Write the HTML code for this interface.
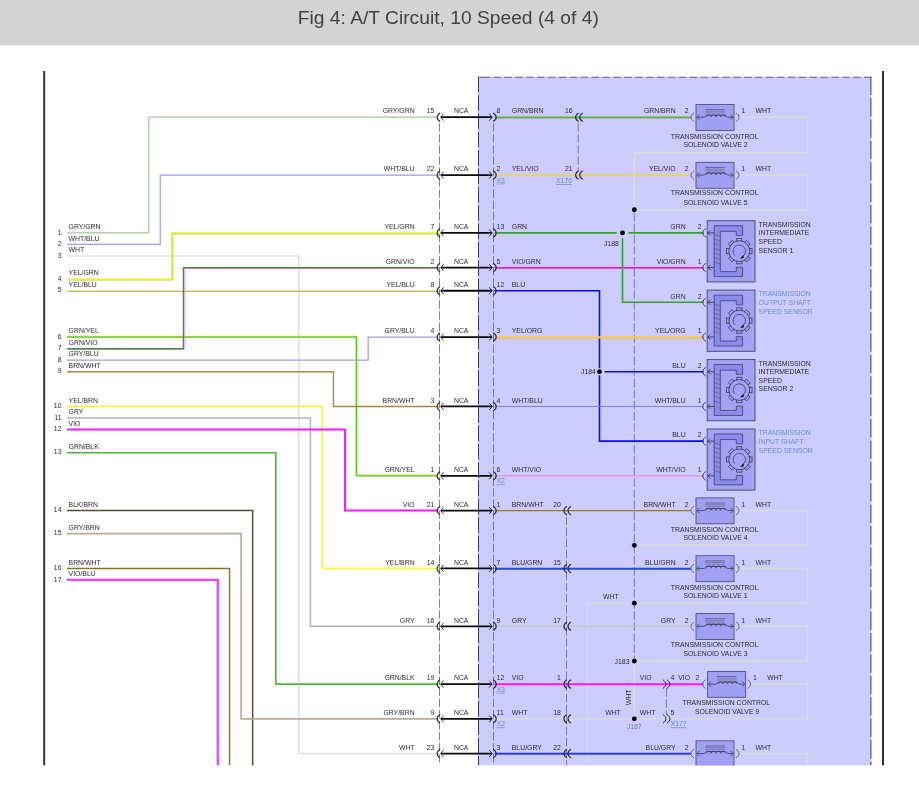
<!DOCTYPE html>
<html lang="en"><head><meta charset="utf-8"><title>Fig 4: A/T Circuit, 10 Speed (4 of 4)</title>
<style>
html,body{margin:0;padding:0;background:#fff;}
body{width:919px;height:795px;overflow:hidden;}
svg{display:block;font-family:"Liberation Sans",Arial,sans-serif;}
svg text{white-space:pre;}
</style></head><body>
<svg width="919" height="795" viewBox="0 0 919 795">
<rect x="0" y="0" width="919" height="795" fill="#ffffff"/>
<rect x="0" y="0" width="919" height="45.5" fill="#d3d3d3"/>
<text x="448.3" y="23.6" text-anchor="middle" fill="#424242" font-size="18.8" textLength="301" lengthAdjust="spacingAndGlyphs">Fig 4: A/T Circuit, 10 Speed (4 of 4)</text>
<rect x="478" y="76.8" width="393.5" height="688.8000000000001" fill="#ccccff"/>
<line x1="478.5" y1="76.6" x2="478.5" y2="765.6" stroke="#3c3c50" stroke-width="1" stroke-dasharray="15.8,2.56"/>
<line x1="870.8" y1="76.6" x2="870.8" y2="765.6" stroke="#686888" stroke-width="1.3" stroke-dasharray="18.4,3"/>
<line x1="478" y1="77.3" x2="490.1" y2="77.3" stroke="#66667c" stroke-width="1.1"/>
<line x1="493.4" y1="77.3" x2="871.4" y2="77.3" stroke="#66667c" stroke-width="1.1" stroke-dasharray="7.6,3.3"/>
<line x1="44.2" y1="71" x2="44.2" y2="765.6" stroke="#333" stroke-width="2"/>
<line x1="883" y1="71" x2="883" y2="765.6" stroke="#0c0c0c" stroke-width="1.7"/>
<line x1="439.5" y1="123.10000000000001" x2="439.5" y2="765.6" stroke="#6c6c80" stroke-width="0.85" stroke-dasharray="8.5,2.57"/>
<line x1="493.5" y1="123.10000000000001" x2="493.5" y2="765.6" stroke="#6c6c80" stroke-width="0.85" stroke-dasharray="8.5,2.57"/>
<line x1="578.2" y1="123.10000000000001" x2="578.2" y2="171.05" stroke="#6c6c80" stroke-width="0.85" stroke-dasharray="8.5,2.57"/>
<line x1="566.5" y1="516.48" x2="566.5" y2="765.6" stroke="#6c6c80" stroke-width="0.85" stroke-dasharray="8.5,2.57"/>
<line x1="634.3" y1="212.76" x2="634.3" y2="657.99" stroke="#6c6c80" stroke-width="0.85" stroke-dasharray="8.5,2.57"/>
<line x1="666.4" y1="688.13" x2="666.4" y2="714.84" stroke="#6c6c80" stroke-width="0.85" stroke-dasharray="8.5,2.57"/>
<polyline points="67.0,232.9 148.7,232.9 148.7,117.2 438.5,117.2" fill="none" stroke="#a2c89c" stroke-width="1.2"/>
<polyline points="67.0,244.47 160.25,244.47 160.25,175.05 438.5,175.05" fill="none" stroke="#9c9cf0" stroke-width="1.2"/>
<polyline points="67.0,256.04 298.85,256.04 298.85,753.55 438.5,753.55" fill="none" stroke="#d6d6d6" stroke-width="1.1"/>
<polyline points="67.0,279.18 171.8,279.18 171.8,232.9 438.5,232.9" fill="none" stroke="#a6d83c" stroke-width="1.3" transform="translate(0.7,0.7)"/>
<polyline points="67.0,279.18 171.8,279.18 171.8,232.9 438.5,232.9" fill="none" stroke="#f6f61e" stroke-width="1.3"/>
<polyline points="67.0,290.75 438.5,290.75" fill="none" stroke="#9a9ae6" stroke-width="1.2" transform="translate(0.7,0.7)"/>
<polyline points="67.0,290.75 438.5,290.75" fill="none" stroke="#f4f428" stroke-width="1.2"/>
<polyline points="67.0,337.03 356.6,337.03 356.6,475.87 438.5,475.87" fill="none" stroke="#cfe83a" stroke-width="1.3" transform="translate(-0.7,-0.7)"/>
<polyline points="67.0,337.03 356.6,337.03 356.6,475.87 438.5,475.87" fill="none" stroke="#58c424" stroke-width="1.3"/>
<polyline points="67.0,348.6 183.35,348.6 183.35,267.61 438.5,267.61" fill="none" stroke="#f27af2" stroke-width="1.2" transform="translate(0.7,0.7)"/>
<polyline points="67.0,348.6 183.35,348.6 183.35,267.61 438.5,267.61" fill="none" stroke="#2c9c1c" stroke-width="1.2"/>
<polyline points="67.0,360.17 368.15,360.17 368.15,337.03 438.5,337.03" fill="none" stroke="#a0a0e0" stroke-width="1.3"/>
<polyline points="67.0,371.74 333.5,371.74 333.5,406.45 438.5,406.45" fill="none" stroke="#a58a3c" stroke-width="1.4"/>
<polyline points="67.0,406.45 321.95,406.45 321.95,568.43 438.5,568.43" fill="none" stroke="#fafa32" stroke-width="1.7"/>
<polyline points="67.0,418.02 310.4,418.02 310.4,626.28 438.5,626.28" fill="none" stroke="#b4b4b4" stroke-width="1.5"/>
<polyline points="67.0,429.59 345.05,429.59 345.05,510.58 438.5,510.58" fill="none" stroke="#ff14ff" stroke-width="2.0"/>
<polyline points="67.0,452.73 275.75,452.73 275.75,684.13 438.5,684.13" fill="none" stroke="#4cb63c" stroke-width="1.7"/>
<polyline points="67.0,510.58 252.65,510.58 252.65,765.6" fill="none" stroke="#5a4a32" stroke-width="1.5"/>
<polyline points="67.0,533.72 241.1,533.72 241.1,718.84 438.5,718.84" fill="none" stroke="#b9ad99" stroke-width="1.7"/>
<polyline points="67.0,568.43 229.55,568.43 229.55,765.6" fill="none" stroke="#8e7426" stroke-width="1.5"/>
<polyline points="67.0,580.0 218.0,580.0 218.0,765.6" fill="none" stroke="#b0a0ff" stroke-width="1.8" transform="translate(-0.7,-0.7)"/>
<polyline points="67.0,580.0 218.0,580.0 218.0,765.6" fill="none" stroke="#fb3cfb" stroke-width="1.8"/>
<text x="61.5" y="235" text-anchor="end" fill="#2e2933" font-size="6.87">1</text>
<text x="68.6" y="229.0" text-anchor="start" fill="#2e2933" font-size="6.87">GRY/GRN</text>
<text x="61.5" y="246" text-anchor="end" fill="#2e2933" font-size="6.87">2</text>
<text x="68.6" y="240.57" text-anchor="start" fill="#2e2933" font-size="6.87">WHT/BLU</text>
<text x="61.5" y="258" text-anchor="end" fill="#2e2933" font-size="6.87">3</text>
<text x="68.6" y="252.14" text-anchor="start" fill="#2e2933" font-size="6.87">WHT</text>
<text x="61.5" y="281" text-anchor="end" fill="#2e2933" font-size="6.87">4</text>
<text x="68.6" y="275.28" text-anchor="start" fill="#2e2933" font-size="6.87">YEL/GRN</text>
<text x="61.5" y="292" text-anchor="end" fill="#2e2933" font-size="6.87">5</text>
<text x="68.6" y="286.85" text-anchor="start" fill="#2e2933" font-size="6.87">YEL/BLU</text>
<text x="61.5" y="339" text-anchor="end" fill="#2e2933" font-size="6.87">6</text>
<text x="68.6" y="333.13" text-anchor="start" fill="#2e2933" font-size="6.87">GRN/YEL</text>
<text x="61.5" y="350" text-anchor="end" fill="#2e2933" font-size="6.87">7</text>
<text x="68.6" y="344.7" text-anchor="start" fill="#2e2933" font-size="6.87">GRN/VIO</text>
<text x="61.5" y="362" text-anchor="end" fill="#2e2933" font-size="6.87">8</text>
<text x="68.6" y="356.27" text-anchor="start" fill="#2e2933" font-size="6.87">GRY/BLU</text>
<text x="61.5" y="373" text-anchor="end" fill="#2e2933" font-size="6.87">9</text>
<text x="68.6" y="367.84" text-anchor="start" fill="#2e2933" font-size="6.87">BRN/WHT</text>
<text x="61.5" y="408" text-anchor="end" fill="#2e2933" font-size="6.87">10</text>
<text x="68.6" y="402.55" text-anchor="start" fill="#2e2933" font-size="6.87">YEL/BRN</text>
<text x="61.5" y="420" text-anchor="end" fill="#2e2933" font-size="6.87">11</text>
<text x="68.6" y="414.12" text-anchor="start" fill="#2e2933" font-size="6.87">GRY</text>
<text x="61.5" y="431" text-anchor="end" fill="#2e2933" font-size="6.87">12</text>
<text x="68.6" y="425.69" text-anchor="start" fill="#2e2933" font-size="6.87">VIO</text>
<text x="61.5" y="454" text-anchor="end" fill="#2e2933" font-size="6.87">13</text>
<text x="68.6" y="448.83" text-anchor="start" fill="#2e2933" font-size="6.87">GRN/BLK</text>
<text x="61.5" y="512" text-anchor="end" fill="#2e2933" font-size="6.87">14</text>
<text x="68.6" y="506.68" text-anchor="start" fill="#2e2933" font-size="6.87">BLK/BRN</text>
<text x="61.5" y="535" text-anchor="end" fill="#2e2933" font-size="6.87">15</text>
<text x="68.6" y="529.82" text-anchor="start" fill="#2e2933" font-size="6.87">GRY/BRN</text>
<text x="61.5" y="570" text-anchor="end" fill="#2e2933" font-size="6.87">16</text>
<text x="68.6" y="564.53" text-anchor="start" fill="#2e2933" font-size="6.87">BRN/WHT</text>
<text x="61.5" y="582" text-anchor="end" fill="#2e2933" font-size="6.87">17</text>
<text x="68.6" y="576.1" text-anchor="start" fill="#2e2933" font-size="6.87">VIO/BLU</text>
<polyline points="739.8,117.2 807.5,117.2 807.5,152.7 634.3,152.7 634.3,206.76" fill="none" stroke="#dcdcd0" stroke-width="1.4"/>
<polyline points="739.8,175.05 807.5,175.05 807.5,209.76 639.3,209.76" fill="none" stroke="#dcdcd0" stroke-width="1.4"/>
<polyline points="739.8,510.58 807.5,510.58 807.5,545.29 639.3,545.29" fill="none" stroke="#dcdcd0" stroke-width="1.4"/>
<polyline points="739.8,568.43 807.5,568.43 807.5,603.14 639.3,603.14" fill="none" stroke="#dcdcd0" stroke-width="1.4"/>
<polyline points="739.8,626.28 807.5,626.28 807.5,660.99 639.3,660.99" fill="none" stroke="#dcdcd0" stroke-width="1.4"/>
<polyline points="751.4,684.13 807.5,684.13 807.5,718.84" fill="none" stroke="#dcdcd0" stroke-width="1.4"/>
<polyline points="739.8,753.55 807.5,753.55 807.5,765.6" fill="none" stroke="#dcdcd0" stroke-width="1.4"/>
<polyline points="629.3,603.14 587.5,603.14 587.5,765.6" fill="none" stroke="#dcdcd0" stroke-width="1.4"/>
<polyline points="494.5,718.84 807.5,718.84" fill="none" stroke="#dcdcd0" stroke-width="1.4"/>
<polyline points="634.3,663.99 634.3,715.84" fill="none" stroke="#dcdcd0" stroke-width="1.4"/>
<polyline points="494.5,117.2 690.6,117.2" fill="none" stroke="#9a9a56" stroke-width="1.3" transform="translate(0.7,0.7)"/>
<polyline points="494.5,117.2 690.6,117.2" fill="none" stroke="#4cb43c" stroke-width="1.3"/>
<polyline points="494.5,175.05 690.6,175.05" fill="none" stroke="#f2c4a8" stroke-width="1.2" transform="translate(0.7,0.7)"/>
<polyline points="494.5,175.05 690.6,175.05" fill="none" stroke="#f4d43a" stroke-width="1.2"/>
<polyline points="494.5,232.9 616.7,232.9" fill="none" stroke="#2fa81f" stroke-width="1.6"/>
<polyline points="628.5,232.9 703.6,232.9" fill="none" stroke="#2fa81f" stroke-width="1.6"/>
<polyline points="622.5,238.20000000000002 622.5,302.32 703.6,302.32" fill="none" stroke="#2fa81f" stroke-width="1.6"/>
<polyline points="494.5,267.61 703.6,267.61" fill="none" stroke="#c070d0" stroke-width="1.2" transform="translate(0.7,0.7)"/>
<polyline points="494.5,267.61 703.6,267.61" fill="none" stroke="#f614e6" stroke-width="1.2"/>
<polyline points="494.5,290.75 599.5,290.75 599.5,368.24" fill="none" stroke="#0a0af8" stroke-width="1.6"/>
<polyline points="604.5,371.74 703.6,371.74" fill="none" stroke="#0a0af8" stroke-width="1.6"/>
<polyline points="599.5,375.24 599.5,441.16 703.6,441.16" fill="none" stroke="#0a0af8" stroke-width="1.6"/>
<polyline points="494.5,337.03 703.6,337.03" fill="none" stroke="#f0b870" stroke-width="1.4" transform="translate(0.7,0.7)"/>
<polyline points="494.5,337.03 703.6,337.03" fill="none" stroke="#f6d22c" stroke-width="1.4"/>
<polyline points="494.5,406.45 703.6,406.45" fill="none" stroke="#7c7cf6" stroke-width="1.0"/>
<polyline points="494.5,475.87 703.6,475.87" fill="none" stroke="#f474e4" stroke-width="1.0"/>
<polyline points="494.5,510.58 690.6,510.58" fill="none" stroke="#a07c14" stroke-width="1.3"/>
<polyline points="494.5,568.43 690.6,568.43" fill="none" stroke="#5a78dc" stroke-width="1.5" transform="translate(0.7,0.7)"/>
<polyline points="494.5,568.43 690.6,568.43" fill="none" stroke="#2846ee" stroke-width="1.5"/>
<polyline points="494.5,626.28 690.6,626.28" fill="none" stroke="#c6c6b6" stroke-width="1.3"/>
<polyline points="494.5,684.13 703.5,684.13" fill="none" stroke="#ff14ff" stroke-width="2.0"/>
<polyline points="494.5,753.55 690.6,753.55" fill="none" stroke="#6e78e0" stroke-width="1.4" transform="translate(0.7,0.7)"/>
<polyline points="494.5,753.55 690.6,753.55" fill="none" stroke="#2832f8" stroke-width="1.4"/>
<circle cx="634.3" cy="209.76" r="2.4" fill="#000"/>
<circle cx="634.3" cy="545.29" r="2.4" fill="#000"/>
<circle cx="634.3" cy="603.14" r="2.4" fill="#000"/>
<circle cx="634.3" cy="660.99" r="2.4" fill="#000"/>
<circle cx="634.3" cy="718.84" r="2.4" fill="#000"/>
<circle cx="622.5" cy="232.9" r="2.4" fill="#000"/>
<circle cx="599.5" cy="371.74" r="2.4" fill="#000"/>
<line x1="441.0" y1="117.2" x2="492.0" y2="117.2" stroke="#0a0a0a" stroke-width="1.8"/>
<path d="M440.1,112.9 C436.1,115.2 436.1,119.2 440.1,121.5" fill="none" stroke="#2a2a2a" stroke-width="1.1"/>
<path d="M443.6,113.8 L440.6,117.2 L443.6,120.6" fill="none" stroke="#1a1a1a" stroke-width="0.9"/>
<path d="M489.2,113.8 L492.2,117.2 L489.2,120.6" fill="none" stroke="#1a1a1a" stroke-width="0.9"/>
<path d="M493.2,112.9 C497.2,115.2 497.2,119.2 493.2,121.5" fill="none" stroke="#2a2a2a" stroke-width="1.1"/>
<text x="414.6" y="112.8" text-anchor="end" fill="#2e2933" font-size="6.87">GRY/GRN</text>
<text x="434.3" y="112.8" text-anchor="end" fill="#2e2933" font-size="6.87">15</text>
<text x="461.2" y="112.8" text-anchor="middle" fill="#2e2933" font-size="6.87">NCA</text>
<text x="496.6" y="112.8" text-anchor="start" fill="#2e2933" font-size="6.87">8</text>
<text x="511.8" y="112.8" text-anchor="start" fill="#2e2933" font-size="6.87">GRN/BRN</text>
<line x1="441.0" y1="175.05" x2="492.0" y2="175.05" stroke="#0a0a0a" stroke-width="1.8"/>
<path d="M440.1,170.75 C436.1,173.05 436.1,177.05 440.1,179.35" fill="none" stroke="#2a2a2a" stroke-width="1.1"/>
<path d="M443.6,171.65 L440.6,175.05 L443.6,178.45" fill="none" stroke="#1a1a1a" stroke-width="0.9"/>
<path d="M489.2,171.65 L492.2,175.05 L489.2,178.45" fill="none" stroke="#1a1a1a" stroke-width="0.9"/>
<path d="M493.2,170.75 C497.2,173.05 497.2,177.05 493.2,179.35" fill="none" stroke="#2a2a2a" stroke-width="1.1"/>
<text x="414.6" y="170.8" text-anchor="end" fill="#2e2933" font-size="6.87">WHT/BLU</text>
<text x="434.3" y="170.8" text-anchor="end" fill="#2e2933" font-size="6.87">22</text>
<text x="461.2" y="170.8" text-anchor="middle" fill="#2e2933" font-size="6.87">NCA</text>
<text x="496.6" y="170.8" text-anchor="start" fill="#2e2933" font-size="6.87">2</text>
<text x="511.8" y="170.8" text-anchor="start" fill="#2e2933" font-size="6.87">YEL/VIO</text>
<line x1="441.0" y1="232.9" x2="492.0" y2="232.9" stroke="#0a0a0a" stroke-width="1.8"/>
<path d="M440.1,228.6 C436.1,230.9 436.1,234.9 440.1,237.2" fill="none" stroke="#2a2a2a" stroke-width="1.1"/>
<path d="M443.6,229.5 L440.6,232.9 L443.6,236.3" fill="none" stroke="#1a1a1a" stroke-width="0.9"/>
<path d="M489.2,229.5 L492.2,232.9 L489.2,236.3" fill="none" stroke="#1a1a1a" stroke-width="0.9"/>
<path d="M493.2,228.6 C497.2,230.9 497.2,234.9 493.2,237.2" fill="none" stroke="#2a2a2a" stroke-width="1.1"/>
<text x="414.6" y="228.8" text-anchor="end" fill="#2e2933" font-size="6.87">YEL/GRN</text>
<text x="434.3" y="228.8" text-anchor="end" fill="#2e2933" font-size="6.87">7</text>
<text x="461.2" y="228.8" text-anchor="middle" fill="#2e2933" font-size="6.87">NCA</text>
<text x="496.6" y="228.8" text-anchor="start" fill="#2e2933" font-size="6.87">13</text>
<text x="511.8" y="228.8" text-anchor="start" fill="#2e2933" font-size="6.87">GRN</text>
<line x1="441.0" y1="267.61" x2="492.0" y2="267.61" stroke="#0a0a0a" stroke-width="1.8"/>
<path d="M440.1,263.31 C436.1,265.61 436.1,269.61 440.1,271.91" fill="none" stroke="#2a2a2a" stroke-width="1.1"/>
<path d="M443.6,264.21 L440.6,267.61 L443.6,271.01" fill="none" stroke="#1a1a1a" stroke-width="0.9"/>
<path d="M489.2,264.21 L492.2,267.61 L489.2,271.01" fill="none" stroke="#1a1a1a" stroke-width="0.9"/>
<path d="M493.2,263.31 C497.2,265.61 497.2,269.61 493.2,271.91" fill="none" stroke="#2a2a2a" stroke-width="1.1"/>
<text x="414.6" y="263.8" text-anchor="end" fill="#2e2933" font-size="6.87">GRN/VIO</text>
<text x="434.3" y="263.8" text-anchor="end" fill="#2e2933" font-size="6.87">2</text>
<text x="461.2" y="263.8" text-anchor="middle" fill="#2e2933" font-size="6.87">NCA</text>
<text x="496.6" y="263.8" text-anchor="start" fill="#2e2933" font-size="6.87">5</text>
<text x="511.8" y="263.8" text-anchor="start" fill="#2e2933" font-size="6.87">VIO/GRN</text>
<line x1="441.0" y1="290.75" x2="492.0" y2="290.75" stroke="#0a0a0a" stroke-width="1.8"/>
<path d="M440.1,286.45 C436.1,288.75 436.1,292.75 440.1,295.05" fill="none" stroke="#2a2a2a" stroke-width="1.1"/>
<path d="M443.6,287.35 L440.6,290.75 L443.6,294.15" fill="none" stroke="#1a1a1a" stroke-width="0.9"/>
<path d="M489.2,287.35 L492.2,290.75 L489.2,294.15" fill="none" stroke="#1a1a1a" stroke-width="0.9"/>
<path d="M493.2,286.45 C497.2,288.75 497.2,292.75 493.2,295.05" fill="none" stroke="#2a2a2a" stroke-width="1.1"/>
<text x="414.6" y="286.8" text-anchor="end" fill="#2e2933" font-size="6.87">YEL/BLU</text>
<text x="434.3" y="286.8" text-anchor="end" fill="#2e2933" font-size="6.87">8</text>
<text x="461.2" y="286.8" text-anchor="middle" fill="#2e2933" font-size="6.87">NCA</text>
<text x="496.6" y="286.8" text-anchor="start" fill="#2e2933" font-size="6.87">12</text>
<text x="511.8" y="286.8" text-anchor="start" fill="#2e2933" font-size="6.87">BLU</text>
<line x1="441.0" y1="337.03" x2="492.0" y2="337.03" stroke="#0a0a0a" stroke-width="1.8"/>
<path d="M440.1,332.73 C436.1,335.03 436.1,339.03 440.1,341.33" fill="none" stroke="#2a2a2a" stroke-width="1.1"/>
<path d="M443.6,333.63 L440.6,337.03 L443.6,340.43" fill="none" stroke="#1a1a1a" stroke-width="0.9"/>
<path d="M489.2,333.63 L492.2,337.03 L489.2,340.43" fill="none" stroke="#1a1a1a" stroke-width="0.9"/>
<path d="M493.2,332.73 C497.2,335.03 497.2,339.03 493.2,341.33" fill="none" stroke="#2a2a2a" stroke-width="1.1"/>
<text x="414.6" y="332.8" text-anchor="end" fill="#2e2933" font-size="6.87">GRY/BLU</text>
<text x="434.3" y="332.8" text-anchor="end" fill="#2e2933" font-size="6.87">4</text>
<text x="461.2" y="332.8" text-anchor="middle" fill="#2e2933" font-size="6.87">NCA</text>
<text x="496.6" y="332.8" text-anchor="start" fill="#2e2933" font-size="6.87">3</text>
<text x="511.8" y="332.8" text-anchor="start" fill="#2e2933" font-size="6.87">YEL/ORG</text>
<line x1="441.0" y1="406.45" x2="492.0" y2="406.45" stroke="#0a0a0a" stroke-width="1.8"/>
<path d="M440.1,402.15 C436.1,404.45 436.1,408.45 440.1,410.75" fill="none" stroke="#2a2a2a" stroke-width="1.1"/>
<path d="M443.6,403.05 L440.6,406.45 L443.6,409.85" fill="none" stroke="#1a1a1a" stroke-width="0.9"/>
<path d="M489.2,403.05 L492.2,406.45 L489.2,409.85" fill="none" stroke="#1a1a1a" stroke-width="0.9"/>
<path d="M493.2,402.15 C497.2,404.45 497.2,408.45 493.2,410.75" fill="none" stroke="#2a2a2a" stroke-width="1.1"/>
<text x="414.6" y="402.8" text-anchor="end" fill="#2e2933" font-size="6.87">BRN/WHT</text>
<text x="434.3" y="402.8" text-anchor="end" fill="#2e2933" font-size="6.87">3</text>
<text x="461.2" y="402.8" text-anchor="middle" fill="#2e2933" font-size="6.87">NCA</text>
<text x="496.6" y="402.8" text-anchor="start" fill="#2e2933" font-size="6.87">4</text>
<text x="511.8" y="402.8" text-anchor="start" fill="#2e2933" font-size="6.87">WHT/BLU</text>
<line x1="441.0" y1="475.87" x2="492.0" y2="475.87" stroke="#0a0a0a" stroke-width="1.8"/>
<path d="M440.1,471.57 C436.1,473.87 436.1,477.87 440.1,480.17" fill="none" stroke="#2a2a2a" stroke-width="1.1"/>
<path d="M443.6,472.47 L440.6,475.87 L443.6,479.27" fill="none" stroke="#1a1a1a" stroke-width="0.9"/>
<path d="M489.2,472.47 L492.2,475.87 L489.2,479.27" fill="none" stroke="#1a1a1a" stroke-width="0.9"/>
<path d="M493.2,471.57 C497.2,473.87 497.2,477.87 493.2,480.17" fill="none" stroke="#2a2a2a" stroke-width="1.1"/>
<text x="414.6" y="471.8" text-anchor="end" fill="#2e2933" font-size="6.87">GRN/YEL</text>
<text x="434.3" y="471.8" text-anchor="end" fill="#2e2933" font-size="6.87">1</text>
<text x="461.2" y="471.8" text-anchor="middle" fill="#2e2933" font-size="6.87">NCA</text>
<text x="496.6" y="471.8" text-anchor="start" fill="#2e2933" font-size="6.87">6</text>
<text x="511.8" y="471.8" text-anchor="start" fill="#2e2933" font-size="6.87">WHT/VIO</text>
<line x1="441.0" y1="510.58" x2="492.0" y2="510.58" stroke="#0a0a0a" stroke-width="1.8"/>
<path d="M440.1,506.28 C436.1,508.58 436.1,512.58 440.1,514.88" fill="none" stroke="#2a2a2a" stroke-width="1.1"/>
<path d="M443.6,507.18 L440.6,510.58 L443.6,513.98" fill="none" stroke="#1a1a1a" stroke-width="0.9"/>
<path d="M489.2,507.18 L492.2,510.58 L489.2,513.98" fill="none" stroke="#1a1a1a" stroke-width="0.9"/>
<path d="M493.2,506.28 C497.2,508.58 497.2,512.58 493.2,514.88" fill="none" stroke="#2a2a2a" stroke-width="1.1"/>
<text x="414.6" y="506.8" text-anchor="end" fill="#2e2933" font-size="6.87">VIO</text>
<text x="434.3" y="506.8" text-anchor="end" fill="#2e2933" font-size="6.87">21</text>
<text x="461.2" y="506.8" text-anchor="middle" fill="#2e2933" font-size="6.87">NCA</text>
<text x="496.6" y="506.8" text-anchor="start" fill="#2e2933" font-size="6.87">1</text>
<text x="511.8" y="506.8" text-anchor="start" fill="#2e2933" font-size="6.87">BRN/WHT</text>
<line x1="441.0" y1="568.43" x2="492.0" y2="568.43" stroke="#0a0a0a" stroke-width="1.8"/>
<path d="M440.1,564.13 C436.1,566.43 436.1,570.43 440.1,572.73" fill="none" stroke="#2a2a2a" stroke-width="1.1"/>
<path d="M443.6,565.03 L440.6,568.43 L443.6,571.83" fill="none" stroke="#1a1a1a" stroke-width="0.9"/>
<path d="M489.2,565.03 L492.2,568.43 L489.2,571.83" fill="none" stroke="#1a1a1a" stroke-width="0.9"/>
<path d="M493.2,564.13 C497.2,566.43 497.2,570.43 493.2,572.73" fill="none" stroke="#2a2a2a" stroke-width="1.1"/>
<text x="414.6" y="564.8" text-anchor="end" fill="#2e2933" font-size="6.87">YEL/BRN</text>
<text x="434.3" y="564.8" text-anchor="end" fill="#2e2933" font-size="6.87">14</text>
<text x="461.2" y="564.8" text-anchor="middle" fill="#2e2933" font-size="6.87">NCA</text>
<text x="496.6" y="564.8" text-anchor="start" fill="#2e2933" font-size="6.87">7</text>
<text x="511.8" y="564.8" text-anchor="start" fill="#2e2933" font-size="6.87">BLU/GRN</text>
<line x1="441.0" y1="626.28" x2="492.0" y2="626.28" stroke="#0a0a0a" stroke-width="1.8"/>
<path d="M440.1,621.98 C436.1,624.28 436.1,628.28 440.1,630.58" fill="none" stroke="#2a2a2a" stroke-width="1.1"/>
<path d="M443.6,622.88 L440.6,626.28 L443.6,629.68" fill="none" stroke="#1a1a1a" stroke-width="0.9"/>
<path d="M489.2,622.88 L492.2,626.28 L489.2,629.68" fill="none" stroke="#1a1a1a" stroke-width="0.9"/>
<path d="M493.2,621.98 C497.2,624.28 497.2,628.28 493.2,630.58" fill="none" stroke="#2a2a2a" stroke-width="1.1"/>
<text x="414.6" y="622.8" text-anchor="end" fill="#2e2933" font-size="6.87">GRY</text>
<text x="434.3" y="622.8" text-anchor="end" fill="#2e2933" font-size="6.87">16</text>
<text x="461.2" y="622.8" text-anchor="middle" fill="#2e2933" font-size="6.87">NCA</text>
<text x="496.6" y="622.8" text-anchor="start" fill="#2e2933" font-size="6.87">9</text>
<text x="511.8" y="622.8" text-anchor="start" fill="#2e2933" font-size="6.87">GRY</text>
<line x1="441.0" y1="684.13" x2="492.0" y2="684.13" stroke="#0a0a0a" stroke-width="1.8"/>
<path d="M440.1,679.83 C436.1,682.13 436.1,686.13 440.1,688.43" fill="none" stroke="#2a2a2a" stroke-width="1.1"/>
<path d="M443.6,680.73 L440.6,684.13 L443.6,687.53" fill="none" stroke="#1a1a1a" stroke-width="0.9"/>
<path d="M489.2,680.73 L492.2,684.13 L489.2,687.53" fill="none" stroke="#1a1a1a" stroke-width="0.9"/>
<path d="M493.2,679.83 C497.2,682.13 497.2,686.13 493.2,688.43" fill="none" stroke="#2a2a2a" stroke-width="1.1"/>
<text x="414.6" y="679.8" text-anchor="end" fill="#2e2933" font-size="6.87">GRN/BLK</text>
<text x="434.3" y="679.8" text-anchor="end" fill="#2e2933" font-size="6.87">19</text>
<text x="461.2" y="679.8" text-anchor="middle" fill="#2e2933" font-size="6.87">NCA</text>
<text x="496.6" y="679.8" text-anchor="start" fill="#2e2933" font-size="6.87">12</text>
<text x="511.8" y="679.8" text-anchor="start" fill="#2e2933" font-size="6.87">VIO</text>
<line x1="441.0" y1="718.84" x2="492.0" y2="718.84" stroke="#0a0a0a" stroke-width="1.8"/>
<path d="M440.1,714.54 C436.1,716.84 436.1,720.84 440.1,723.14" fill="none" stroke="#2a2a2a" stroke-width="1.1"/>
<path d="M443.6,715.44 L440.6,718.84 L443.6,722.24" fill="none" stroke="#1a1a1a" stroke-width="0.9"/>
<path d="M489.2,715.44 L492.2,718.84 L489.2,722.24" fill="none" stroke="#1a1a1a" stroke-width="0.9"/>
<path d="M493.2,714.54 C497.2,716.84 497.2,720.84 493.2,723.14" fill="none" stroke="#2a2a2a" stroke-width="1.1"/>
<text x="414.6" y="714.8" text-anchor="end" fill="#2e2933" font-size="6.87">GRY/BRN</text>
<text x="434.3" y="714.8" text-anchor="end" fill="#2e2933" font-size="6.87">9</text>
<text x="461.2" y="714.8" text-anchor="middle" fill="#2e2933" font-size="6.87">NCA</text>
<text x="496.6" y="714.8" text-anchor="start" fill="#2e2933" font-size="6.87">11</text>
<text x="511.8" y="714.8" text-anchor="start" fill="#2e2933" font-size="6.87">WHT</text>
<line x1="441.0" y1="753.55" x2="492.0" y2="753.55" stroke="#0a0a0a" stroke-width="1.8"/>
<path d="M440.1,749.25 C436.1,751.55 436.1,755.55 440.1,757.85" fill="none" stroke="#2a2a2a" stroke-width="1.1"/>
<path d="M443.6,750.15 L440.6,753.55 L443.6,756.95" fill="none" stroke="#1a1a1a" stroke-width="0.9"/>
<path d="M489.2,750.15 L492.2,753.55 L489.2,756.95" fill="none" stroke="#1a1a1a" stroke-width="0.9"/>
<path d="M493.2,749.25 C497.2,751.55 497.2,755.55 493.2,757.85" fill="none" stroke="#2a2a2a" stroke-width="1.1"/>
<text x="414.6" y="749.8" text-anchor="end" fill="#2e2933" font-size="6.87">WHT</text>
<text x="434.3" y="749.8" text-anchor="end" fill="#2e2933" font-size="6.87">23</text>
<text x="461.2" y="749.8" text-anchor="middle" fill="#2e2933" font-size="6.87">NCA</text>
<text x="496.6" y="749.8" text-anchor="start" fill="#2e2933" font-size="6.87">3</text>
<text x="511.8" y="749.8" text-anchor="start" fill="#2e2933" font-size="6.87">BLU/GRY</text>
<path d="M578.6,112.9 C574.6,115.2 574.6,119.2 578.6,121.5" fill="none" stroke="#2a2a40" stroke-width="1.15"/>
<path d="M582.7,112.9 C578.7,115.2 578.7,119.2 582.7,121.5" fill="none" stroke="#2a2a40" stroke-width="1.15"/>
<text x="572.6" y="112.8" text-anchor="end" fill="#2e2933" font-size="6.87">16</text>
<path d="M578.6,170.75 C574.6,173.05 574.6,177.05 578.6,179.35" fill="none" stroke="#2a2a40" stroke-width="1.15"/>
<path d="M582.7,170.75 C578.7,173.05 578.7,177.05 582.7,179.35" fill="none" stroke="#2a2a40" stroke-width="1.15"/>
<text x="572.6" y="170.8" text-anchor="end" fill="#2e2933" font-size="6.87">21</text>
<path d="M566.9,506.28 C562.9,508.58 562.9,512.58 566.9,514.88" fill="none" stroke="#2a2a40" stroke-width="1.15"/>
<path d="M571.0,506.28 C567.0,508.58 567.0,512.58 571.0,514.88" fill="none" stroke="#2a2a40" stroke-width="1.15"/>
<text x="560.9" y="506.8" text-anchor="end" fill="#2e2933" font-size="6.87">20</text>
<path d="M566.9,564.13 C562.9,566.43 562.9,570.43 566.9,572.73" fill="none" stroke="#2a2a40" stroke-width="1.15"/>
<path d="M571.0,564.13 C567.0,566.43 567.0,570.43 571.0,572.73" fill="none" stroke="#2a2a40" stroke-width="1.15"/>
<text x="560.9" y="564.8" text-anchor="end" fill="#2e2933" font-size="6.87">15</text>
<path d="M566.9,621.98 C562.9,624.28 562.9,628.28 566.9,630.58" fill="none" stroke="#2a2a40" stroke-width="1.15"/>
<path d="M571.0,621.98 C567.0,624.28 567.0,628.28 571.0,630.58" fill="none" stroke="#2a2a40" stroke-width="1.15"/>
<text x="560.9" y="622.8" text-anchor="end" fill="#2e2933" font-size="6.87">17</text>
<path d="M566.9,679.83 C562.9,682.13 562.9,686.13 566.9,688.43" fill="none" stroke="#2a2a40" stroke-width="1.15"/>
<path d="M571.0,679.83 C567.0,682.13 567.0,686.13 571.0,688.43" fill="none" stroke="#2a2a40" stroke-width="1.15"/>
<text x="560.9" y="679.8" text-anchor="end" fill="#2e2933" font-size="6.87">1</text>
<path d="M566.9,714.54 C562.9,716.84 562.9,720.84 566.9,723.14" fill="none" stroke="#2a2a40" stroke-width="1.15"/>
<path d="M571.0,714.54 C567.0,716.84 567.0,720.84 571.0,723.14" fill="none" stroke="#2a2a40" stroke-width="1.15"/>
<text x="560.9" y="714.8" text-anchor="end" fill="#2e2933" font-size="6.87">18</text>
<path d="M566.9,749.25 C562.9,751.55 562.9,755.55 566.9,757.85" fill="none" stroke="#2a2a40" stroke-width="1.15"/>
<path d="M571.0,749.25 C567.0,751.55 567.0,755.55 571.0,757.85" fill="none" stroke="#2a2a40" stroke-width="1.15"/>
<text x="560.9" y="749.8" text-anchor="end" fill="#2e2933" font-size="6.87">22</text>
<rect x="696.0" y="104.5" width="38" height="25.9" fill="#a0a0f5" stroke="#50507a" stroke-width="0.9"/>
<path d="M694.0,112.9 C690.0,115.2 690.0,119.2 694.0,121.5" fill="none" stroke="#55556e" stroke-width="0.9"/>
<path d="M736.0,112.9 C740.0,115.2 740.0,119.2 736.0,121.5" fill="none" stroke="#55556e" stroke-width="0.9"/>
<path d="M697.0,117.2 H704.5 L706.4,115.2 H725.4 L727.4,117.2 H733.0" fill="none" stroke="#3a3a55" stroke-width="0.8"/>
<path d="M706.4,117.0 a2.37,2.3 0 0 1 4.75,0 a2.37,2.3 0 0 1 4.75,0 a2.37,2.3 0 0 1 4.75,0 a2.37,2.3 0 0 1 4.75,0" fill="none" stroke="#3a3a55" stroke-width="0.7"/>
<path d="M699.4,114.6 L696.8,117.2 L699.4,119.8" fill="none" stroke="#3a3a55" stroke-width="0.8"/>
<path d="M730.6,114.6 L733.2,117.2 L730.6,119.8" fill="none" stroke="#3a3a55" stroke-width="0.8"/>
<line x1="705.2" y1="109.6" x2="724.8" y2="109.6" stroke="#4a4a6a" stroke-width="0.7"/>
<line x1="705.2" y1="111.3" x2="724.8" y2="111.3" stroke="#6a6a90" stroke-width="0.7"/>
<line x1="705.2" y1="113.0" x2="724.8" y2="113.0" stroke="#6a6a90" stroke-width="0.7"/>
<text x="714.7" y="138.6" text-anchor="middle" fill="#2e2933" font-size="6.87">TRANSMISSION CONTROL</text>
<text x="715.5" y="146.8" text-anchor="middle" fill="#2e2933" font-size="6.87">SOLENOID VALVE 2</text>
<text x="741.3" y="112.8" text-anchor="start" fill="#2e2933" font-size="6.87">1</text>
<text x="755.6" y="112.8" text-anchor="start" fill="#2e2933" font-size="6.87">WHT</text>
<rect x="696.0" y="162.35" width="38" height="25.9" fill="#a0a0f5" stroke="#50507a" stroke-width="0.9"/>
<path d="M694.0,170.75 C690.0,173.05 690.0,177.05 694.0,179.35" fill="none" stroke="#55556e" stroke-width="0.9"/>
<path d="M736.0,170.75 C740.0,173.05 740.0,177.05 736.0,179.35" fill="none" stroke="#55556e" stroke-width="0.9"/>
<path d="M697.0,175.05 H704.5 L706.4,173.05 H725.4 L727.4,175.05 H733.0" fill="none" stroke="#3a3a55" stroke-width="0.8"/>
<path d="M706.4,174.85 a2.37,2.3 0 0 1 4.75,0 a2.37,2.3 0 0 1 4.75,0 a2.37,2.3 0 0 1 4.75,0 a2.37,2.3 0 0 1 4.75,0" fill="none" stroke="#3a3a55" stroke-width="0.7"/>
<path d="M699.4,172.45 L696.8,175.05 L699.4,177.65" fill="none" stroke="#3a3a55" stroke-width="0.8"/>
<path d="M730.6,172.45 L733.2,175.05 L730.6,177.65" fill="none" stroke="#3a3a55" stroke-width="0.8"/>
<line x1="705.2" y1="167.45" x2="724.8" y2="167.45" stroke="#4a4a6a" stroke-width="0.7"/>
<line x1="705.2" y1="169.15" x2="724.8" y2="169.15" stroke="#6a6a90" stroke-width="0.7"/>
<line x1="705.2" y1="170.85" x2="724.8" y2="170.85" stroke="#6a6a90" stroke-width="0.7"/>
<text x="714.7" y="195.45" text-anchor="middle" fill="#2e2933" font-size="6.87">TRANSMISSION CONTROL</text>
<text x="715.5" y="204.65" text-anchor="middle" fill="#2e2933" font-size="6.87">SOLENOID VALVE 5</text>
<text x="741.3" y="170.8" text-anchor="start" fill="#2e2933" font-size="6.87">1</text>
<text x="755.6" y="170.8" text-anchor="start" fill="#2e2933" font-size="6.87">WHT</text>
<rect x="696.0" y="497.88" width="38" height="25.9" fill="#a0a0f5" stroke="#50507a" stroke-width="0.9"/>
<path d="M694.0,506.28 C690.0,508.58 690.0,512.58 694.0,514.88" fill="none" stroke="#55556e" stroke-width="0.9"/>
<path d="M736.0,506.28 C740.0,508.58 740.0,512.58 736.0,514.88" fill="none" stroke="#55556e" stroke-width="0.9"/>
<path d="M697.0,510.58 H704.5 L706.4,508.58 H725.4 L727.4,510.58 H733.0" fill="none" stroke="#3a3a55" stroke-width="0.8"/>
<path d="M706.4,510.38 a2.37,2.3 0 0 1 4.75,0 a2.37,2.3 0 0 1 4.75,0 a2.37,2.3 0 0 1 4.75,0 a2.37,2.3 0 0 1 4.75,0" fill="none" stroke="#3a3a55" stroke-width="0.7"/>
<path d="M699.4,507.98 L696.8,510.58 L699.4,513.18" fill="none" stroke="#3a3a55" stroke-width="0.8"/>
<path d="M730.6,507.98 L733.2,510.58 L730.6,513.18" fill="none" stroke="#3a3a55" stroke-width="0.8"/>
<line x1="705.2" y1="502.98" x2="724.8" y2="502.98" stroke="#4a4a6a" stroke-width="0.7"/>
<line x1="705.2" y1="504.68" x2="724.8" y2="504.68" stroke="#6a6a90" stroke-width="0.7"/>
<line x1="705.2" y1="506.38" x2="724.8" y2="506.38" stroke="#6a6a90" stroke-width="0.7"/>
<text x="714.7" y="531.98" text-anchor="middle" fill="#2e2933" font-size="6.87">TRANSMISSION CONTROL</text>
<text x="715.5" y="540.18" text-anchor="middle" fill="#2e2933" font-size="6.87">SOLENOID VALVE 4</text>
<text x="741.3" y="506.8" text-anchor="start" fill="#2e2933" font-size="6.87">1</text>
<text x="755.6" y="506.8" text-anchor="start" fill="#2e2933" font-size="6.87">WHT</text>
<rect x="696.0" y="555.73" width="38" height="25.9" fill="#a0a0f5" stroke="#50507a" stroke-width="0.9"/>
<path d="M694.0,564.13 C690.0,566.43 690.0,570.43 694.0,572.73" fill="none" stroke="#55556e" stroke-width="0.9"/>
<path d="M736.0,564.13 C740.0,566.43 740.0,570.43 736.0,572.73" fill="none" stroke="#55556e" stroke-width="0.9"/>
<path d="M697.0,568.43 H704.5 L706.4,566.43 H725.4 L727.4,568.43 H733.0" fill="none" stroke="#3a3a55" stroke-width="0.8"/>
<path d="M706.4,568.23 a2.37,2.3 0 0 1 4.75,0 a2.37,2.3 0 0 1 4.75,0 a2.37,2.3 0 0 1 4.75,0 a2.37,2.3 0 0 1 4.75,0" fill="none" stroke="#3a3a55" stroke-width="0.7"/>
<path d="M699.4,565.83 L696.8,568.43 L699.4,571.03" fill="none" stroke="#3a3a55" stroke-width="0.8"/>
<path d="M730.6,565.83 L733.2,568.43 L730.6,571.03" fill="none" stroke="#3a3a55" stroke-width="0.8"/>
<line x1="705.2" y1="560.83" x2="724.8" y2="560.83" stroke="#4a4a6a" stroke-width="0.7"/>
<line x1="705.2" y1="562.53" x2="724.8" y2="562.53" stroke="#6a6a90" stroke-width="0.7"/>
<line x1="705.2" y1="564.23" x2="724.8" y2="564.23" stroke="#6a6a90" stroke-width="0.7"/>
<text x="714.7" y="589.83" text-anchor="middle" fill="#2e2933" font-size="6.87">TRANSMISSION CONTROL</text>
<text x="715.5" y="598.03" text-anchor="middle" fill="#2e2933" font-size="6.87">SOLENOID VALVE 1</text>
<text x="741.3" y="564.8" text-anchor="start" fill="#2e2933" font-size="6.87">1</text>
<text x="755.6" y="564.8" text-anchor="start" fill="#2e2933" font-size="6.87">WHT</text>
<rect x="696.0" y="613.58" width="38" height="25.9" fill="#a0a0f5" stroke="#50507a" stroke-width="0.9"/>
<path d="M694.0,621.98 C690.0,624.28 690.0,628.28 694.0,630.58" fill="none" stroke="#55556e" stroke-width="0.9"/>
<path d="M736.0,621.98 C740.0,624.28 740.0,628.28 736.0,630.58" fill="none" stroke="#55556e" stroke-width="0.9"/>
<path d="M697.0,626.28 H704.5 L706.4,624.28 H725.4 L727.4,626.28 H733.0" fill="none" stroke="#3a3a55" stroke-width="0.8"/>
<path d="M706.4,626.08 a2.37,2.3 0 0 1 4.75,0 a2.37,2.3 0 0 1 4.75,0 a2.37,2.3 0 0 1 4.75,0 a2.37,2.3 0 0 1 4.75,0" fill="none" stroke="#3a3a55" stroke-width="0.7"/>
<path d="M699.4,623.68 L696.8,626.28 L699.4,628.88" fill="none" stroke="#3a3a55" stroke-width="0.8"/>
<path d="M730.6,623.68 L733.2,626.28 L730.6,628.88" fill="none" stroke="#3a3a55" stroke-width="0.8"/>
<line x1="705.2" y1="618.68" x2="724.8" y2="618.68" stroke="#4a4a6a" stroke-width="0.7"/>
<line x1="705.2" y1="620.38" x2="724.8" y2="620.38" stroke="#6a6a90" stroke-width="0.7"/>
<line x1="705.2" y1="622.08" x2="724.8" y2="622.08" stroke="#6a6a90" stroke-width="0.7"/>
<text x="714.7" y="646.68" text-anchor="middle" fill="#2e2933" font-size="6.87">TRANSMISSION CONTROL</text>
<text x="715.5" y="655.88" text-anchor="middle" fill="#2e2933" font-size="6.87">SOLENOID VALVE 3</text>
<text x="741.3" y="622.8" text-anchor="start" fill="#2e2933" font-size="6.87">1</text>
<text x="755.6" y="622.8" text-anchor="start" fill="#2e2933" font-size="6.87">WHT</text>
<rect x="707.6" y="671.43" width="38" height="25.9" fill="#a0a0f5" stroke="#50507a" stroke-width="0.9"/>
<path d="M705.6,679.83 C701.6,682.13 701.6,686.13 705.6,688.43" fill="none" stroke="#55556e" stroke-width="0.9"/>
<path d="M747.6,679.83 C751.6,682.13 751.6,686.13 747.6,688.43" fill="none" stroke="#55556e" stroke-width="0.9"/>
<path d="M708.6,684.13 H716.1 L718.0,682.13 H737.0 L739.0,684.13 H744.6" fill="none" stroke="#3a3a55" stroke-width="0.8"/>
<path d="M718.0,683.93 a2.37,2.3 0 0 1 4.75,0 a2.37,2.3 0 0 1 4.75,0 a2.37,2.3 0 0 1 4.75,0 a2.37,2.3 0 0 1 4.75,0" fill="none" stroke="#3a3a55" stroke-width="0.7"/>
<path d="M711.0,681.53 L708.4,684.13 L711.0,686.73" fill="none" stroke="#3a3a55" stroke-width="0.8"/>
<path d="M742.2,681.53 L744.8000000000001,684.13 L742.2,686.73" fill="none" stroke="#3a3a55" stroke-width="0.8"/>
<line x1="716.8000000000001" y1="676.53" x2="736.4" y2="676.53" stroke="#4a4a6a" stroke-width="0.7"/>
<line x1="716.8000000000001" y1="678.23" x2="736.4" y2="678.23" stroke="#6a6a90" stroke-width="0.7"/>
<line x1="716.8000000000001" y1="679.93" x2="736.4" y2="679.93" stroke="#6a6a90" stroke-width="0.7"/>
<text x="726.3000000000001" y="704.53" text-anchor="middle" fill="#2e2933" font-size="6.87">TRANSMISSION CONTROL</text>
<text x="727.1" y="713.73" text-anchor="middle" fill="#2e2933" font-size="6.87">SOLENOID VALVE 9</text>
<text x="752.9" y="679.8" text-anchor="start" fill="#2e2933" font-size="6.87">1</text>
<text x="767.2" y="679.8" text-anchor="start" fill="#2e2933" font-size="6.87">WHT</text>
<rect x="696.0" y="740.85" width="38" height="25.9" fill="#a0a0f5" stroke="#50507a" stroke-width="0.9"/>
<path d="M694.0,749.25 C690.0,751.55 690.0,755.55 694.0,757.85" fill="none" stroke="#55556e" stroke-width="0.9"/>
<path d="M736.0,749.25 C740.0,751.55 740.0,755.55 736.0,757.85" fill="none" stroke="#55556e" stroke-width="0.9"/>
<path d="M697.0,753.55 H704.5 L706.4,751.55 H725.4 L727.4,753.55 H733.0" fill="none" stroke="#3a3a55" stroke-width="0.8"/>
<path d="M706.4,753.35 a2.37,2.3 0 0 1 4.75,0 a2.37,2.3 0 0 1 4.75,0 a2.37,2.3 0 0 1 4.75,0 a2.37,2.3 0 0 1 4.75,0" fill="none" stroke="#3a3a55" stroke-width="0.7"/>
<path d="M699.4,750.95 L696.8,753.55 L699.4,756.15" fill="none" stroke="#3a3a55" stroke-width="0.8"/>
<path d="M730.6,750.95 L733.2,753.55 L730.6,756.15" fill="none" stroke="#3a3a55" stroke-width="0.8"/>
<line x1="705.2" y1="745.95" x2="724.8" y2="745.95" stroke="#4a4a6a" stroke-width="0.7"/>
<line x1="705.2" y1="747.65" x2="724.8" y2="747.65" stroke="#6a6a90" stroke-width="0.7"/>
<line x1="705.2" y1="749.35" x2="724.8" y2="749.35" stroke="#6a6a90" stroke-width="0.7"/>
<text x="714.7" y="774.95" text-anchor="middle" fill="#2e2933" font-size="6.87">TRANSMISSION CONTROL</text>
<text x="715.5" y="783.15" text-anchor="middle" fill="#2e2933" font-size="6.87"></text>
<text x="741.3" y="749.8" text-anchor="start" fill="#2e2933" font-size="6.87">1</text>
<text x="755.6" y="749.8" text-anchor="start" fill="#2e2933" font-size="6.87">WHT</text>
<text x="675.6" y="112.8" text-anchor="end" fill="#2e2933" font-size="6.87">GRN/BRN</text>
<text x="688.6" y="112.8" text-anchor="end" fill="#2e2933" font-size="6.87">2</text>
<text x="675.6" y="170.8" text-anchor="end" fill="#2e2933" font-size="6.87">YEL/VIO</text>
<text x="688.6" y="170.8" text-anchor="end" fill="#2e2933" font-size="6.87">2</text>
<text x="675.6" y="506.8" text-anchor="end" fill="#2e2933" font-size="6.87">BRN/WHT</text>
<text x="688.6" y="506.8" text-anchor="end" fill="#2e2933" font-size="6.87">2</text>
<text x="675.6" y="564.8" text-anchor="end" fill="#2e2933" font-size="6.87">BLU/GRN</text>
<text x="688.6" y="564.8" text-anchor="end" fill="#2e2933" font-size="6.87">2</text>
<text x="675.6" y="622.8" text-anchor="end" fill="#2e2933" font-size="6.87">GRY</text>
<text x="688.6" y="622.8" text-anchor="end" fill="#2e2933" font-size="6.87">2</text>
<text x="675.6" y="749.8" text-anchor="end" fill="#2e2933" font-size="6.87">BLU/GRY</text>
<text x="688.6" y="749.8" text-anchor="end" fill="#2e2933" font-size="6.87">2</text>
<text x="639.8" y="679.8" text-anchor="start" fill="#2e2933" font-size="6.87">VIO</text>
<path d="M662.9,679.83 C666.9,682.13 666.9,686.13 662.9,688.43" fill="none" stroke="#2a2a2a" stroke-width="1.0"/>
<path d="M666.9,679.83 C670.9,682.13 670.9,686.13 666.9,688.43" fill="none" stroke="#2a2a2a" stroke-width="1.0"/>
<text x="670.6" y="679.8" text-anchor="start" fill="#2e2933" font-size="6.87">4</text>
<text x="678.3" y="679.8" text-anchor="start" fill="#2e2933" font-size="6.87">VIO</text>
<text x="695.6" y="679.8" text-anchor="start" fill="#2e2933" font-size="6.87">2</text>
<text x="605.2" y="714.8" text-anchor="start" fill="#2e2933" font-size="6.87">WHT</text>
<text x="639.8" y="714.8" text-anchor="start" fill="#2e2933" font-size="6.87">WHT</text>
<path d="M662.9,714.54 C666.9,716.84 666.9,720.84 662.9,723.14" fill="none" stroke="#2a2a2a" stroke-width="1.0"/>
<path d="M666.9,714.54 C670.9,716.84 670.9,720.84 666.9,723.14" fill="none" stroke="#2a2a2a" stroke-width="1.0"/>
<text x="670.6" y="714.8" text-anchor="start" fill="#2e2933" font-size="6.87">5</text>
<text x="603.0" y="599.34" text-anchor="start" fill="#2e2933" font-size="6.87">WHT</text>
<text transform="translate(631.2,705.2) rotate(-90)" fill="#2e2933" font-size="6.87">WHT</text>
<rect x="707.2" y="220.7" width="47.799999999999955" height="61.21" fill="#a3a3f6" stroke="#50506e" stroke-width="1"/>
<path d="M714.2,225.7 H742.6 V235.5 H736.3 V231.3 H720.3 V271.61 H736.3 V267.21 H742.6 V276.61 H714.2 Z" fill="#8a8af0" stroke="#4a4a70" stroke-width="0.9"/>
<line x1="713.4000000000001" y1="234.4" x2="720.8" y2="236.6" stroke="#55557a" stroke-width="0.6"/>
<line x1="713.4000000000001" y1="239.0" x2="720.8" y2="241.2" stroke="#55557a" stroke-width="0.6"/>
<line x1="713.4000000000001" y1="243.6" x2="720.8" y2="245.8" stroke="#55557a" stroke-width="0.6"/>
<line x1="713.4000000000001" y1="248.2" x2="720.8" y2="250.4" stroke="#55557a" stroke-width="0.6"/>
<line x1="713.4000000000001" y1="252.8" x2="720.8" y2="255.0" stroke="#55557a" stroke-width="0.6"/>
<line x1="713.4000000000001" y1="257.4" x2="720.8" y2="259.6" stroke="#55557a" stroke-width="0.6"/>
<line x1="713.4000000000001" y1="262.0" x2="720.8" y2="264.2" stroke="#55557a" stroke-width="0.6"/>
<line x1="707.7" y1="232.9" x2="714.2" y2="232.9" stroke="#3a3a55" stroke-width="0.9"/>
<path d="M710.6,230.3 L708.0,232.9 L710.6,235.5" fill="none" stroke="#3a3a55" stroke-width="0.9"/>
<path d="M705.8,228.6 C701.8,230.9 701.8,234.9 705.8,237.2" fill="none" stroke="#33334a" stroke-width="1.0"/>
<line x1="707.7" y1="267.61" x2="714.2" y2="267.61" stroke="#3a3a55" stroke-width="0.9"/>
<path d="M710.6,265.01 L708.0,267.61 L710.6,270.21" fill="none" stroke="#3a3a55" stroke-width="0.9"/>
<path d="M705.8,263.31 C701.8,265.61 701.8,269.61 705.8,271.91" fill="none" stroke="#33334a" stroke-width="1.0"/>
<rect x="736.6999999999999" y="238.46" width="5.2" height="3.4" fill="#a3a3f6" stroke="#3a3a55" stroke-width="0.8" transform="rotate(0 739.3 251.16)"/>
<rect x="736.6999999999999" y="238.46" width="5.2" height="3.4" fill="#a3a3f6" stroke="#3a3a55" stroke-width="0.8" transform="rotate(45 739.3 251.16)"/>
<rect x="736.6999999999999" y="238.46" width="5.2" height="3.4" fill="#a3a3f6" stroke="#3a3a55" stroke-width="0.8" transform="rotate(90 739.3 251.16)"/>
<rect x="736.6999999999999" y="238.46" width="5.2" height="3.4" fill="#a3a3f6" stroke="#3a3a55" stroke-width="0.8" transform="rotate(135 739.3 251.16)"/>
<rect x="736.6999999999999" y="238.46" width="5.2" height="3.4" fill="#a3a3f6" stroke="#3a3a55" stroke-width="0.8" transform="rotate(180 739.3 251.16)"/>
<rect x="736.6999999999999" y="238.46" width="5.2" height="3.4" fill="#a3a3f6" stroke="#3a3a55" stroke-width="0.8" transform="rotate(225 739.3 251.16)"/>
<rect x="736.6999999999999" y="238.46" width="5.2" height="3.4" fill="#a3a3f6" stroke="#3a3a55" stroke-width="0.8" transform="rotate(270 739.3 251.16)"/>
<rect x="736.6999999999999" y="238.46" width="5.2" height="3.4" fill="#a3a3f6" stroke="#3a3a55" stroke-width="0.8" transform="rotate(315 739.3 251.16)"/>
<circle cx="739.3" cy="251.16" r="10.4" fill="#a3a3f6" stroke="#3a3a55" stroke-width="0.9"/>
<path d="M734.7,255.36 A6.2,6.2 0 1 1 742.7,256.36" fill="none" stroke="#3a3a55" stroke-width="0.8"/>
<path d="M739.9,258.76 L743.5,254.96 L743.9,257.96 Z" fill="#111"/>
<text x="758.6" y="226.8" text-anchor="start" fill="#2e2933" font-size="6.87">TRANSMISSION</text>
<text x="758.6" y="235.4" text-anchor="start" fill="#2e2933" font-size="6.87">INTERMEDIATE</text>
<text x="758.6" y="244.0" text-anchor="start" fill="#2e2933" font-size="6.87">SPEED</text>
<text x="758.6" y="252.6" text-anchor="start" fill="#2e2933" font-size="6.87">SENSOR 1</text>
<text x="685.6" y="228.8" text-anchor="end" fill="#2e2933" font-size="6.87">GRN</text>
<text x="701.6" y="228.8" text-anchor="end" fill="#2e2933" font-size="6.87">2</text>
<text x="685.6" y="263.8" text-anchor="end" fill="#2e2933" font-size="6.87">VIO/GRN</text>
<text x="701.6" y="263.8" text-anchor="end" fill="#2e2933" font-size="6.87">1</text>
<rect x="707.2" y="290.12" width="47.799999999999955" height="61.21" fill="#a3a3f6" stroke="#50506e" stroke-width="1"/>
<path d="M714.2,295.12 H742.6 V304.92 H736.3 V300.72 H720.3 V341.03 H736.3 V336.63 H742.6 V346.03 H714.2 Z" fill="#8a8af0" stroke="#4a4a70" stroke-width="0.9"/>
<line x1="713.4000000000001" y1="303.82" x2="720.8" y2="306.02" stroke="#55557a" stroke-width="0.6"/>
<line x1="713.4000000000001" y1="308.42" x2="720.8" y2="310.62" stroke="#55557a" stroke-width="0.6"/>
<line x1="713.4000000000001" y1="313.02" x2="720.8" y2="315.22" stroke="#55557a" stroke-width="0.6"/>
<line x1="713.4000000000001" y1="317.62" x2="720.8" y2="319.82" stroke="#55557a" stroke-width="0.6"/>
<line x1="713.4000000000001" y1="322.22" x2="720.8" y2="324.42" stroke="#55557a" stroke-width="0.6"/>
<line x1="713.4000000000001" y1="326.82" x2="720.8" y2="329.02" stroke="#55557a" stroke-width="0.6"/>
<line x1="713.4000000000001" y1="331.42" x2="720.8" y2="333.62" stroke="#55557a" stroke-width="0.6"/>
<line x1="707.7" y1="302.32" x2="714.2" y2="302.32" stroke="#3a3a55" stroke-width="0.9"/>
<path d="M710.6,299.72 L708.0,302.32 L710.6,304.92" fill="none" stroke="#3a3a55" stroke-width="0.9"/>
<path d="M705.8,298.02 C701.8,300.32 701.8,304.32 705.8,306.62" fill="none" stroke="#33334a" stroke-width="1.0"/>
<line x1="707.7" y1="337.03" x2="714.2" y2="337.03" stroke="#3a3a55" stroke-width="0.9"/>
<path d="M710.6,334.43 L708.0,337.03 L710.6,339.63" fill="none" stroke="#3a3a55" stroke-width="0.9"/>
<path d="M705.8,332.73 C701.8,335.03 701.8,339.03 705.8,341.33" fill="none" stroke="#33334a" stroke-width="1.0"/>
<rect x="736.6999999999999" y="307.87" width="5.2" height="3.4" fill="#a3a3f6" stroke="#3a3a55" stroke-width="0.8" transform="rotate(0 739.3 320.57)"/>
<rect x="736.6999999999999" y="307.87" width="5.2" height="3.4" fill="#a3a3f6" stroke="#3a3a55" stroke-width="0.8" transform="rotate(45 739.3 320.57)"/>
<rect x="736.6999999999999" y="307.87" width="5.2" height="3.4" fill="#a3a3f6" stroke="#3a3a55" stroke-width="0.8" transform="rotate(90 739.3 320.57)"/>
<rect x="736.6999999999999" y="307.87" width="5.2" height="3.4" fill="#a3a3f6" stroke="#3a3a55" stroke-width="0.8" transform="rotate(135 739.3 320.57)"/>
<rect x="736.6999999999999" y="307.87" width="5.2" height="3.4" fill="#a3a3f6" stroke="#3a3a55" stroke-width="0.8" transform="rotate(180 739.3 320.57)"/>
<rect x="736.6999999999999" y="307.87" width="5.2" height="3.4" fill="#a3a3f6" stroke="#3a3a55" stroke-width="0.8" transform="rotate(225 739.3 320.57)"/>
<rect x="736.6999999999999" y="307.87" width="5.2" height="3.4" fill="#a3a3f6" stroke="#3a3a55" stroke-width="0.8" transform="rotate(270 739.3 320.57)"/>
<rect x="736.6999999999999" y="307.87" width="5.2" height="3.4" fill="#a3a3f6" stroke="#3a3a55" stroke-width="0.8" transform="rotate(315 739.3 320.57)"/>
<circle cx="739.3" cy="320.57" r="10.4" fill="#a3a3f6" stroke="#3a3a55" stroke-width="0.9"/>
<path d="M734.7,324.77 A6.2,6.2 0 1 1 742.7,325.77" fill="none" stroke="#3a3a55" stroke-width="0.8"/>
<path d="M739.9,328.17 L743.5,324.37 L743.9,327.37 Z" fill="#111"/>
<text x="758.6" y="296.22" text-anchor="start" fill="#6a90c4" font-size="6.87">TRANSMISSION</text>
<text x="758.6" y="305.12" text-anchor="start" fill="#6a90c4" font-size="6.87">OUTPUT SHAFT</text>
<text x="758.6" y="314.02" text-anchor="start" fill="#6a90c4" font-size="6.87">SPEED SENSOR</text>
<text x="685.6" y="298.8" text-anchor="end" fill="#2e2933" font-size="6.87">GRN</text>
<text x="701.6" y="298.8" text-anchor="end" fill="#2e2933" font-size="6.87">2</text>
<text x="685.6" y="332.8" text-anchor="end" fill="#2e2933" font-size="6.87">YEL/ORG</text>
<text x="701.6" y="332.8" text-anchor="end" fill="#2e2933" font-size="6.87">1</text>
<rect x="707.2" y="359.54" width="47.799999999999955" height="61.21" fill="#a3a3f6" stroke="#50506e" stroke-width="1"/>
<path d="M714.2,364.54 H742.6 V374.34 H736.3 V370.14 H720.3 V410.45 H736.3 V406.05 H742.6 V415.45 H714.2 Z" fill="#8a8af0" stroke="#4a4a70" stroke-width="0.9"/>
<line x1="713.4000000000001" y1="373.24" x2="720.8" y2="375.44" stroke="#55557a" stroke-width="0.6"/>
<line x1="713.4000000000001" y1="377.84" x2="720.8" y2="380.04" stroke="#55557a" stroke-width="0.6"/>
<line x1="713.4000000000001" y1="382.44" x2="720.8" y2="384.64" stroke="#55557a" stroke-width="0.6"/>
<line x1="713.4000000000001" y1="387.04" x2="720.8" y2="389.24" stroke="#55557a" stroke-width="0.6"/>
<line x1="713.4000000000001" y1="391.64" x2="720.8" y2="393.84" stroke="#55557a" stroke-width="0.6"/>
<line x1="713.4000000000001" y1="396.24" x2="720.8" y2="398.44" stroke="#55557a" stroke-width="0.6"/>
<line x1="713.4000000000001" y1="400.84" x2="720.8" y2="403.04" stroke="#55557a" stroke-width="0.6"/>
<line x1="707.7" y1="371.74" x2="714.2" y2="371.74" stroke="#3a3a55" stroke-width="0.9"/>
<path d="M710.6,369.14 L708.0,371.74 L710.6,374.34" fill="none" stroke="#3a3a55" stroke-width="0.9"/>
<path d="M705.8,367.44 C701.8,369.74 701.8,373.74 705.8,376.04" fill="none" stroke="#33334a" stroke-width="1.0"/>
<line x1="707.7" y1="406.45" x2="714.2" y2="406.45" stroke="#3a3a55" stroke-width="0.9"/>
<path d="M710.6,403.85 L708.0,406.45 L710.6,409.05" fill="none" stroke="#3a3a55" stroke-width="0.9"/>
<path d="M705.8,402.15 C701.8,404.45 701.8,408.45 705.8,410.75" fill="none" stroke="#33334a" stroke-width="1.0"/>
<rect x="736.6999999999999" y="377.3" width="5.2" height="3.4" fill="#a3a3f6" stroke="#3a3a55" stroke-width="0.8" transform="rotate(0 739.3 390.0)"/>
<rect x="736.6999999999999" y="377.3" width="5.2" height="3.4" fill="#a3a3f6" stroke="#3a3a55" stroke-width="0.8" transform="rotate(45 739.3 390.0)"/>
<rect x="736.6999999999999" y="377.3" width="5.2" height="3.4" fill="#a3a3f6" stroke="#3a3a55" stroke-width="0.8" transform="rotate(90 739.3 390.0)"/>
<rect x="736.6999999999999" y="377.3" width="5.2" height="3.4" fill="#a3a3f6" stroke="#3a3a55" stroke-width="0.8" transform="rotate(135 739.3 390.0)"/>
<rect x="736.6999999999999" y="377.3" width="5.2" height="3.4" fill="#a3a3f6" stroke="#3a3a55" stroke-width="0.8" transform="rotate(180 739.3 390.0)"/>
<rect x="736.6999999999999" y="377.3" width="5.2" height="3.4" fill="#a3a3f6" stroke="#3a3a55" stroke-width="0.8" transform="rotate(225 739.3 390.0)"/>
<rect x="736.6999999999999" y="377.3" width="5.2" height="3.4" fill="#a3a3f6" stroke="#3a3a55" stroke-width="0.8" transform="rotate(270 739.3 390.0)"/>
<rect x="736.6999999999999" y="377.3" width="5.2" height="3.4" fill="#a3a3f6" stroke="#3a3a55" stroke-width="0.8" transform="rotate(315 739.3 390.0)"/>
<circle cx="739.3" cy="390.0" r="10.4" fill="#a3a3f6" stroke="#3a3a55" stroke-width="0.9"/>
<path d="M734.7,394.2 A6.2,6.2 0 1 1 742.7,395.2" fill="none" stroke="#3a3a55" stroke-width="0.8"/>
<path d="M739.9,397.6 L743.5,393.8 L743.9,396.8 Z" fill="#111"/>
<text x="758.6" y="365.64" text-anchor="start" fill="#2e2933" font-size="6.87">TRANSMISSION</text>
<text x="758.6" y="374.24" text-anchor="start" fill="#2e2933" font-size="6.87">INTERMEDIATE</text>
<text x="758.6" y="382.84" text-anchor="start" fill="#2e2933" font-size="6.87">SPEED</text>
<text x="758.6" y="391.44" text-anchor="start" fill="#2e2933" font-size="6.87">SENSOR 2</text>
<text x="685.6" y="367.8" text-anchor="end" fill="#2e2933" font-size="6.87">BLU</text>
<text x="701.6" y="367.8" text-anchor="end" fill="#2e2933" font-size="6.87">2</text>
<text x="685.6" y="402.8" text-anchor="end" fill="#2e2933" font-size="6.87">WHT/BLU</text>
<text x="701.6" y="402.8" text-anchor="end" fill="#2e2933" font-size="6.87">1</text>
<rect x="707.2" y="428.96" width="47.799999999999955" height="61.21" fill="#a3a3f6" stroke="#50506e" stroke-width="1"/>
<path d="M714.2,433.96 H742.6 V443.76 H736.3 V439.56 H720.3 V479.87 H736.3 V475.47 H742.6 V484.87 H714.2 Z" fill="#8a8af0" stroke="#4a4a70" stroke-width="0.9"/>
<line x1="713.4000000000001" y1="442.66" x2="720.8" y2="444.86" stroke="#55557a" stroke-width="0.6"/>
<line x1="713.4000000000001" y1="447.26" x2="720.8" y2="449.46" stroke="#55557a" stroke-width="0.6"/>
<line x1="713.4000000000001" y1="451.86" x2="720.8" y2="454.06" stroke="#55557a" stroke-width="0.6"/>
<line x1="713.4000000000001" y1="456.46" x2="720.8" y2="458.66" stroke="#55557a" stroke-width="0.6"/>
<line x1="713.4000000000001" y1="461.06" x2="720.8" y2="463.26" stroke="#55557a" stroke-width="0.6"/>
<line x1="713.4000000000001" y1="465.66" x2="720.8" y2="467.86" stroke="#55557a" stroke-width="0.6"/>
<line x1="713.4000000000001" y1="470.26" x2="720.8" y2="472.46" stroke="#55557a" stroke-width="0.6"/>
<line x1="707.7" y1="441.16" x2="714.2" y2="441.16" stroke="#3a3a55" stroke-width="0.9"/>
<path d="M710.6,438.56 L708.0,441.16 L710.6,443.76" fill="none" stroke="#3a3a55" stroke-width="0.9"/>
<path d="M705.8,436.86 C701.8,439.16 701.8,443.16 705.8,445.46" fill="none" stroke="#33334a" stroke-width="1.0"/>
<line x1="707.7" y1="475.87" x2="714.2" y2="475.87" stroke="#3a3a55" stroke-width="0.9"/>
<path d="M710.6,473.27 L708.0,475.87 L710.6,478.47" fill="none" stroke="#3a3a55" stroke-width="0.9"/>
<path d="M705.8,471.57 C701.8,473.87 701.8,477.87 705.8,480.17" fill="none" stroke="#33334a" stroke-width="1.0"/>
<rect x="736.6999999999999" y="446.71" width="5.2" height="3.4" fill="#a3a3f6" stroke="#3a3a55" stroke-width="0.8" transform="rotate(0 739.3 459.41)"/>
<rect x="736.6999999999999" y="446.71" width="5.2" height="3.4" fill="#a3a3f6" stroke="#3a3a55" stroke-width="0.8" transform="rotate(45 739.3 459.41)"/>
<rect x="736.6999999999999" y="446.71" width="5.2" height="3.4" fill="#a3a3f6" stroke="#3a3a55" stroke-width="0.8" transform="rotate(90 739.3 459.41)"/>
<rect x="736.6999999999999" y="446.71" width="5.2" height="3.4" fill="#a3a3f6" stroke="#3a3a55" stroke-width="0.8" transform="rotate(135 739.3 459.41)"/>
<rect x="736.6999999999999" y="446.71" width="5.2" height="3.4" fill="#a3a3f6" stroke="#3a3a55" stroke-width="0.8" transform="rotate(180 739.3 459.41)"/>
<rect x="736.6999999999999" y="446.71" width="5.2" height="3.4" fill="#a3a3f6" stroke="#3a3a55" stroke-width="0.8" transform="rotate(225 739.3 459.41)"/>
<rect x="736.6999999999999" y="446.71" width="5.2" height="3.4" fill="#a3a3f6" stroke="#3a3a55" stroke-width="0.8" transform="rotate(270 739.3 459.41)"/>
<rect x="736.6999999999999" y="446.71" width="5.2" height="3.4" fill="#a3a3f6" stroke="#3a3a55" stroke-width="0.8" transform="rotate(315 739.3 459.41)"/>
<circle cx="739.3" cy="459.41" r="10.4" fill="#a3a3f6" stroke="#3a3a55" stroke-width="0.9"/>
<path d="M734.7,463.61 A6.2,6.2 0 1 1 742.7,464.61" fill="none" stroke="#3a3a55" stroke-width="0.8"/>
<path d="M739.9,467.01 L743.5,463.21 L743.9,466.21 Z" fill="#111"/>
<text x="758.6" y="435.06" text-anchor="start" fill="#6a90c4" font-size="6.87">TRANSMISSION</text>
<text x="758.6" y="443.96" text-anchor="start" fill="#6a90c4" font-size="6.87">INPUT SHAFT</text>
<text x="758.6" y="452.86" text-anchor="start" fill="#6a90c4" font-size="6.87">SPEED SENSOR</text>
<text x="685.6" y="436.8" text-anchor="end" fill="#2e2933" font-size="6.87">BLU</text>
<text x="701.6" y="436.8" text-anchor="end" fill="#2e2933" font-size="6.87">2</text>
<text x="685.6" y="471.8" text-anchor="end" fill="#2e2933" font-size="6.87">WHT/VIO</text>
<text x="701.6" y="471.8" text-anchor="end" fill="#2e2933" font-size="6.87">1</text>
<text x="496.4" y="182.65" text-anchor="start" fill="#5b8fc9" font-size="6.87" text-decoration="underline">X3</text>
<text x="556.0" y="183.25" text-anchor="start" fill="#5b8fc9" font-size="6.87" text-decoration="underline">X176</text>
<text x="496.4" y="483.47" text-anchor="start" fill="#5b8fc9" font-size="6.87" text-decoration="underline">X2</text>
<text x="496.4" y="691.73" text-anchor="start" fill="#5b8fc9" font-size="6.87" text-decoration="underline">X3</text>
<text x="496.4" y="726.44" text-anchor="start" fill="#5b8fc9" font-size="6.87" text-decoration="underline">X2</text>
<text x="670.6" y="726.44" text-anchor="start" fill="#5b8fc9" font-size="6.87" text-decoration="underline">X177</text>
<text x="604.0" y="245.7" text-anchor="start" fill="#2e2933" font-size="6.87">J188</text>
<text x="581.0" y="374.34" text-anchor="start" fill="#2e2933" font-size="6.87">J184</text>
<text x="614.6" y="663.59" text-anchor="start" fill="#2e2933" font-size="6.87">J183</text>
<text x="626.8" y="729.04" text-anchor="start" fill="#6884b4" font-size="6.87">J187</text>
<rect x="0" y="765.6" width="919" height="29.399999999999977" fill="#fff"/>
</svg>
</body></html>
